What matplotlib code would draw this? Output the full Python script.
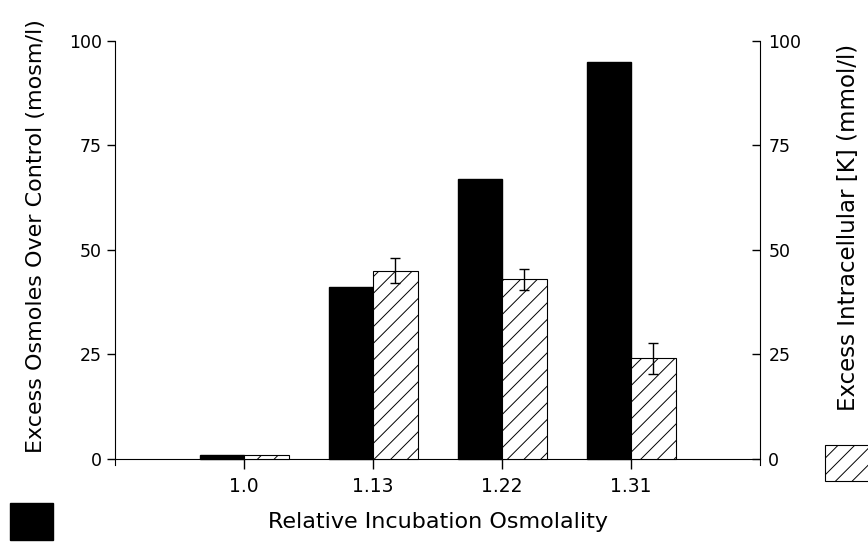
import matplotlib
matplotlib.use('Agg')
import matplotlib.pyplot as plt
import matplotlib.patches as mpatches
import numpy as np

# data
categories = ['1.0', '1.13', '1.22', '1.31']
osmoles = [1, 41, 67, 95]          # left axis, black bars
potassium = [1, 45, 43, 24]        # right axis, hatched bars
potassium_err = [0, 3, 2.5, 3.7]

plt.rcParams['font.family'] = 'DejaVu Sans'
plt.rcParams['hatch.linewidth'] = 0.7

fig = plt.figure(figsize=(8.68, 5.42), dpi=100)
ax = fig.add_axes([0.1325, 0.1421, 0.8756 - 0.1325, 0.9244 - 0.1421])
ax2 = ax.twinx()

x = np.arange(len(categories))
w = 0.345

ax.bar(x - w / 2, osmoles, width=w, color='black', edgecolor='black', zorder=2)
ax2.bar(x + w / 2, potassium, width=w, color='white', edgecolor='black',
        hatch='//', linewidth=0.8, zorder=2)
err_idx = [i for i, e in enumerate(potassium_err) if e > 0]
ax2.errorbar(x[err_idx] + w / 2, [potassium[i] for i in err_idx],
             yerr=[potassium_err[i] for i in err_idx], fmt='none',
             ecolor='black', elinewidth=1, capsize=3.5, capthick=1, zorder=3)

for a in (ax, ax2):
    a.set_xlim(-1, 4)
    a.set_ylim(-1.5, 100)
    a.set_yticks([0, 25, 50, 75, 100])
    a.spines['top'].set_visible(False)
    a.tick_params(labelsize=12.5, length=6, width=1)
ax.spines['right'].set_visible(False)
ax2.spines['left'].set_visible(False)
ax.spines['bottom'].set_position(('data', 0))
ax2.spines['bottom'].set_visible(False)

ax.set_xticks(x)
ax.set_xticklabels(categories, fontsize=13.5)
ax.tick_params(axis='x', direction='out', length=7, pad=6)
ax2.tick_params(axis='y', direction='in', length=6, pad=6)

ax.set_xlabel('Relative Incubation Osmolality', fontsize=16, labelpad=12)
ax.set_ylabel('Excess Osmoles Over Control (mosm/l)', fontsize=16)
ax2.set_ylabel('Excess Intracellular [K] (mmol/l)', fontsize=16.5)
ax.yaxis.set_label_coords(-0.107, 0.54)
ax2.yaxis.set_label_coords(1.12, 0.56)

# legend swatches placed below the axis labels
W, H = 868, 542
fig.add_artist(mpatches.Rectangle((10 / W, 1 - 540 / H), 43 / W, 37 / H,
                                  facecolor='black', edgecolor='black',
                                  transform=fig.transFigure))
fig.add_artist(mpatches.Rectangle((825 / W, 1 - 481 / H), 45 / W, 36 / H,
                                  facecolor='white', edgecolor='black',
                                  hatch='//', linewidth=0.8,
                                  transform=fig.transFigure))

fig.savefig('out.png', dpi=100)
